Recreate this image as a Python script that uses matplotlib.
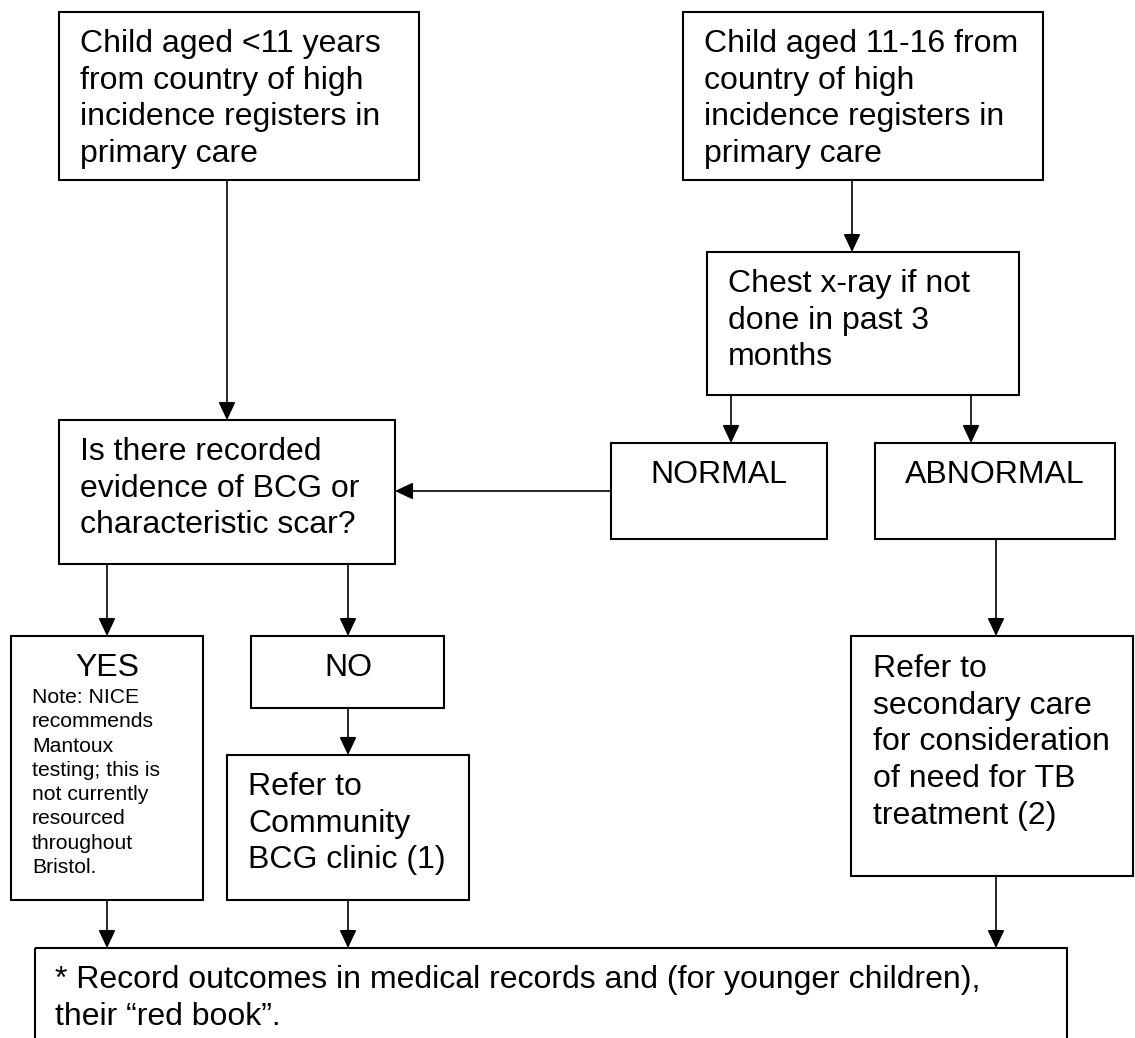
import matplotlib
matplotlib.use("Agg")
import matplotlib.pyplot as plt
from matplotlib.patches import Rectangle

# --- boxes: (left, top, right, bottom) in pixel units ---
boxes = {
    "young":     (59, 12, 419, 180),
    "older":     (683, 12, 1043, 180),
    "xray":      (707, 252, 1019, 395),
    "bcg":       (59, 420, 395, 564),
    "normal":    (611, 443, 827, 539),
    "abnormal":  (875, 443, 1115, 539),
    "yes":       (11, 636, 203, 900),
    "no":        (251, 636, 444, 708),
    "community": (227, 755, 469, 900),
    "secondary": (851, 636, 1133, 876),
    "record":    (35, 948, 1067, 1060),
}

# --- texts: (x, first baseline, lines, size, align) ---
big = 23
small = 15.2
texts = [
    (80, 52, ["Child aged <11 years", "from country of high",
              "incidence registers in", "primary care"], big, "left"),
    (704, 52, ["Child aged 11-16 from", "country of high",
               "incidence registers in", "primary care"], big, "left"),
    (728, 292, ["Chest x-ray if not", "done in past 3", "months"], big, "left"),
    (80, 460, ["Is there recorded", "evidence of BCG or",
               "characteristic scar?"], big, "left"),
    (719, 483, ["NORMAL"], big, "center"),
    (995, 483, ["ABNORMAL"], big, "center"),
    (107, 676, ["YES"], big, "center"),
    (348, 676, ["NO"], big, "center"),
    (32, 703, ["Note: NICE", "recommends", "Mantoux", "testing; this is",
               "not currently", "resourced", "throughout", "Bristol."], small, "left"),
    (248, 795, ["Refer to", "Community", "BCG clinic (1)"], big, "left"),
    (873, 677, ["Refer to", "secondary care", "for consideration",
                "of need for TB", "treatment (2)"], big, "left"),
    (55, 988, ["* Record outcomes in medical records and (for younger children),",
               "their \u201cred book\u201d."], big, "left"),
]
line_step = {big: 36.7, small: 24.3}

# --- connectors: list of points, last one gets the arrow head ---
arrows = [
    [(227, 180), (227, 420)],
    [(852, 180), (852, 252)],
    [(731, 395), (731, 443)],
    [(971, 395), (971, 443)],
    [(611, 491), (395, 491)],
    [(107, 564), (107, 636)],
    [(348, 564), (348, 636)],
    [(348, 708), (348, 755)],
    [(996, 539), (996, 636)],
    [(107, 900), (107, 948)],
    [(348, 900), (348, 948)],
    [(996, 876), (996, 948)],
]


def main():
    W, H = 1135, 1038
    fig = plt.figure(figsize=(W / 100, H / 100), dpi=100)
    ax = fig.add_axes([0, 0, 1, 1])
    ax.set_xlim(0, W)
    ax.set_ylim(H, 0)
    ax.axis("off")

    for l, t, r, b in boxes.values():
        ax.add_patch(Rectangle((l, t), r - l, b - t, fill=False,
                               edgecolor="black", linewidth=1.5))

    for x, y0, lines, size, align in texts:
        for i, s in enumerate(lines):
            ax.text(x, y0 + i * line_step[size], s, fontsize=size,
                    family="Liberation Sans", ha=align, va="baseline")

    for pts in arrows:
        (x0, y0), (x1, y1) = pts
        ax.annotate("", xy=(x1, y1), xytext=(x0, y0),
                    arrowprops=dict(arrowstyle="-|>,head_length=0.55,head_width=0.26",
                                    color="black", lw=1.2, shrinkA=0, shrinkB=0,
                                    mutation_scale=20))

    fig.savefig("out.png", dpi=100)


if __name__ == "__main__":
    main()
